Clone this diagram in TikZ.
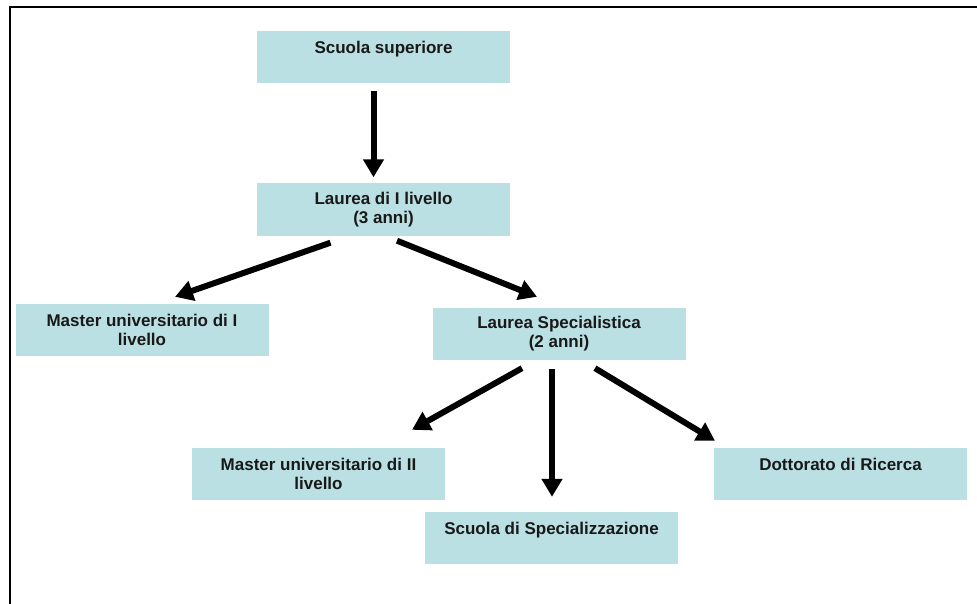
\documentclass[tikz,border=0pt]{standalone}
\usepackage{fontspec}
\setmainfont{Liberation Sans}
\usetikzlibrary{arrows.meta}
\definecolor{cBox}{RGB}{187,224,227}
\definecolor{cText}{RGB}{25,25,25}
\definecolor{cEdge}{RGB}{0,0,0}
\tikzset{
  level/.style={
    rectangle, fill=cBox, draw=none, inner sep=0pt,
    minimum width=253pt, minimum height=52pt,
    align=center, text=cText, font=\fontsize{17}{19}\selectfont\bfseries,
  },
  levelT/.style={level, text height=12pt, text depth=19pt},
  arr/.style={-{Triangle[length=18pt,width=20pt]}, line width=6pt, draw=cEdge},
  frame/.style={line width=2pt, draw=cEdge},
}

\begin{document}
\begin{tikzpicture}[x=1pt,y=-1pt]
\useasboundingbox (0,0) rectangle (977,604);

% ===== page frame (cut at right and bottom) =====
\draw[frame] (10,604) -- (10,7) -- (977,7);

% ===== top: school and first degree =====
\node[levelT] (sup) at (383.5,57.5) {Scuola superiore};
\node[level]  (l1)  at (383.5,209.5) {Laurea di I livello\\(3 anni)};

% ===== middle row =====
\node[level] (m1) at (142,330) {Master universitario di I\\livello};
\node[level] (ls) at (559,334) {Laurea Specialistica\\(2 anni)};

% ===== bottom row =====
\node[level]  (m2) at (318.5,474) {Master universitario di II\\livello};
\node[levelT] (ss) at (551.5,538) {Scuola di Specializzazione};
\node[levelT] (dr) at (840.5,474) {Dottorato di Ricerca};

% ===== arrows =====
\draw[arr] ([xshift=-10pt,yshift=-7pt]sup.south) -- ([xshift=-10pt,yshift=6pt]l1.north);
\draw[arr] ([xshift=-53pt,yshift=-7pt]l1.south) -- ([xshift=33pt,yshift=7pt]m1.north);
\draw[arr] ([xshift=13.5pt,yshift=-5pt]l1.south) -- ([xshift=-22pt,yshift=11pt]ls.north);

% from the specialist degree
\draw[arr] ([xshift=-37pt,yshift=-8pt]ls.south) -- ([xshift=93.5pt,yshift=18pt]m2.north);
\draw[arr] ([xshift=-7pt,yshift=-9pt]ls.south) -- ([xshift=0.5pt,yshift=15pt]ss.north);
\draw[arr] ([xshift=36pt,yshift=-8pt]ls.south) -- ([xshift=-125.5pt,yshift=7pt]dr.north);

\end{tikzpicture}
\end{document}
